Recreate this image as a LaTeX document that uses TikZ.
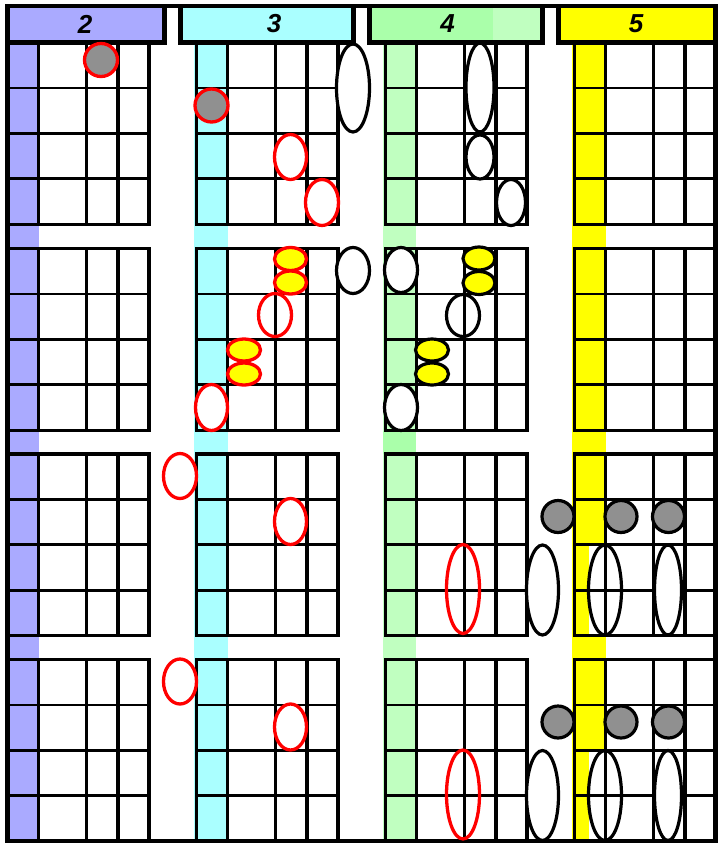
\documentclass[tikz,border=0pt]{standalone}
\usepackage{fontspec}
\setmainfont{Liberation Sans}
\definecolor{lav}{HTML}{AAAAFF}
\definecolor{cyn}{HTML}{AAFFFF}
\definecolor{grnA}{HTML}{AAFFAA}
\definecolor{grnB}{HTML}{C0FFC0}
\definecolor{yel}{HTML}{FFFF00}
\definecolor{gry}{HTML}{909090}
\definecolor{rd}{HTML}{FF0000}
\begin{document}
\begin{tikzpicture}[x=1pt,y=-1pt,
  thickln/.style={line width=3.7pt,line cap=rect},
  thinln/.style={line width=2.8pt,line cap=rect},
  botln/.style={line width=3.2pt,line cap=rect},
  hdrbox/.style={draw=black,line width=4.5pt},
  ringw/.style={draw=rd,line width=3.3pt,fill=white},
  ringo/.style={draw=rd,line width=3.3pt},
  ringy/.style={draw=rd,line width=3.3pt,fill=yel},
  ringg/.style={draw=rd,line width=3.3pt,fill=gry},
  blkw/.style={draw=black,line width=3.2pt,fill=white},
  blko/.style={draw=black,line width=3.2pt},
  blky/.style={draw=black,line width=3.2pt,fill=yel},
  blkg/.style={draw=black,line width=3.2pt,fill=gry},
  hdrtxt/.style={inner sep=0pt,font=\fontsize{26}{26}\selectfont\bfseries\itshape}]
\useasboundingbox (0,0) rectangle (718,846);
\fill[white] (0,0) rectangle (718,846);
% colour strips
\fill[lav] (7.5,42.5) rectangle (38.5,841);
\fill[cyn] (194,42.5) rectangle (227.5,841);
\fill[grnB] (383,42.5) rectangle (416,841);
\fill[grnA] (383,431) rectangle (416,454);
\fill[yel] (572,42.5) rectangle (605.5,841);
\fill[white] (589,544) rectangle (606,635.6);
\fill[white] (589,749.3) rectangle (606,841);
% grid blocks
\foreach \L in {7.5,196.5,385.5,574.5}{
  \foreach \T in {42.5,248.5,454,659.5}{
    \foreach \o in {0,31,79,110.5,141.5}
      \draw[thickln] (\L+\o,\T) -- (\L+\o,\T+181.6);
    \draw[thickln] (\L,\T) -- (\L+141.5,\T);
    \foreach \k in {1,2,3}
      \draw[thinln] (\L,\T+45.4*\k) -- (\L+141.5,\T+45.4*\k);
    \draw[botln] (\L,\T+181.6) -- (\L+141.5,\T+181.6);
  }
}
% header
\draw[hdrbox,fill=lav] (7.5,6) rectangle (164.5,42.5);
\draw[hdrbox,fill=cyn] (180.5,6) rectangle (353.5,42.5);
\fill[grnA] (369.5,6) rectangle (542.5,42.5);
\fill[grnB] (493,6) rectangle (542.5,42.5);
\draw[hdrbox] (369.5,6) rectangle (542.5,42.5);
\draw[hdrbox,fill=yel] (558.5,6) rectangle (715.5,42.5);
\draw[line width=4.5pt] (7.5,6) rectangle (715.5,841);
\node[hdrtxt] (h2) at (85,24) {2};
\node[hdrtxt] (h3) at (274,24) {3};
\node[hdrtxt] (h4) at (447.5,24) {4};
\node[hdrtxt] (h5) at (636,24) {5};
% row 1 marks
\draw[ringg] (101,60) circle[radius=16.5pt];
\draw[ringg] (211.5,105.5) circle[radius=16.5pt];
\draw[ringw] (290.5,157) ellipse[x radius=16pt,y radius=22.5pt];
\draw[ringw] (322,202.5) ellipse[x radius=16.5pt,y radius=23pt];
\draw[blkw] (353,88) ellipse[x radius=16.5pt,y radius=44pt];
\draw[blkw] (480,87.5) ellipse[x radius=14pt,y radius=44.5pt];
\draw[blkw] (480,157) ellipse[x radius=14pt,y radius=22pt];
\draw[blkw] (511,202.5) ellipse[x radius=14.5pt,y radius=23pt];
% row 2 marks
\draw[ringy] (290.5,259) ellipse[x radius=16pt,y radius=11.5pt];
\draw[ringy] (290.5,282.5) ellipse[x radius=16pt,y radius=11.5pt];
\draw[ringo] (275,315) ellipse[x radius=16.5pt,y radius=21.5pt];
\draw[ringy] (244,350) ellipse[x radius=16.5pt,y radius=11pt];
\draw[ringy] (244,374) ellipse[x radius=16.5pt,y radius=11pt];
\draw[ringw] (211.5,407.5) ellipse[x radius=16pt,y radius=23pt];
\draw[blkw] (353,270.5) ellipse[x radius=16.5pt,y radius=23pt];
\draw[blkw] (401,270) ellipse[x radius=16.5pt,y radius=22.5pt];
\draw[blky] (479,258.5) ellipse[x radius=16pt,y radius=11.5pt];
\draw[blky] (479,283) ellipse[x radius=16pt,y radius=11.5pt];
\draw[blko] (463,315.5) ellipse[x radius=16.5pt,y radius=21pt];
\draw[blky] (432,350) ellipse[x radius=16.5pt,y radius=11pt];
\draw[blky] (432,374) ellipse[x radius=16.5pt,y radius=11pt];
\draw[blkw] (401,407.5) ellipse[x radius=16.5pt,y radius=23pt];
% rows 3 and 4 marks
\foreach \dy in {0,205.5}{
  \draw[ringw] (180,476+\dy) ellipse[x radius=16.5pt,y radius=22.5pt];
  \draw[ringw] (290.5,521.5+\dy) ellipse[x radius=16pt,y radius=23pt];
  \draw[ringo] (463,589+\dy) ellipse[x radius=16.5pt,y radius=44.5pt];
  \draw[blkg] (558,516.5+\dy) circle[radius=16pt];
  \draw[blkg] (621,516.5+\dy) circle[radius=16pt];
  \draw[blkg] (668.5,516.5+\dy) circle[radius=16pt];
  \draw[blkw] (542.5,590+\dy) ellipse[x radius=16pt,y radius=45pt];
  \draw[blko] (605,590+\dy) ellipse[x radius=16.5pt,y radius=45pt];
  \draw[blkw] (668,590+\dy) ellipse[x radius=13.5pt,y radius=45pt];
}
\end{tikzpicture}
\end{document}
